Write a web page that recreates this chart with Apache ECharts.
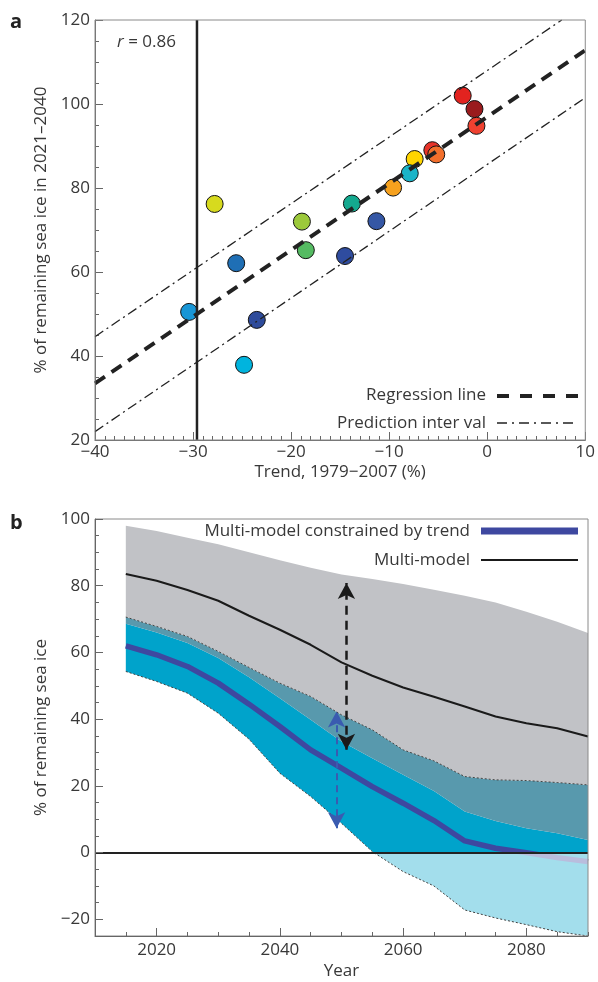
<!DOCTYPE html>
<html>
<head>
<meta charset="utf-8">
<script src="https://cdn.jsdelivr.net/npm/echarts@6/dist/echarts.min.js"></script>
<style>
  html, body { margin: 0; padding: 0; background: #fff; }
  #chart { width: 598px; height: 982px; }
</style>
</head>
<body>
<div id="chart"></div>
<script>
// panel a: 1979-2007 trend vs % remaining ice in 2021-2040, one dot per model
const trendX = [-27.8, -25.6, -30.4, -23.5, -24.8, -18.5, -14.5, -18.9, -13.8, -11.3, -9.6, -7.4, -7.9, -5.6, -5.2, -2.5, -1.3, -1.1];
const remainingY = [76.2, 62.1, 50.5, 48.6, 37.9, 65.2, 63.8, 72.0, 76.3, 72.1, 80.1, 86.9, 83.5, 89.0, 88.0, 102.0, 98.8, 94.8];
const modelColors = ["#d7da1e", "#1f6fb5", "#1896d6", "#2e4b9b", "#00b4de", "#55bb62", "#2f4c9f", "#9cc93b", "#14a98f",
  "#3557a5", "#f6a11e", "#ffd500", "#1ab4c8", "#e63329", "#f26f2c", "#e2231f", "#9a1b1d", "#ef4130"];
const regressionLine = [[-40, 33.5], [10, 112.8]];
const predictionUpper = [[-40, 44.6], [7.6, 120]];
const predictionLower = [[-40, 22.0], [10, 101.5]];
const observedTrend = -29.6;
const rValue = "0.86";

// panel b: projections
const years = [2015, 2020, 2025, 2030, 2035, 2040, 2045, 2050, 2055, 2060, 2065, 2070, 2075, 2080, 2085, 2090];
const multiModelMax = [98, 96.4, 94.4, 92.4, 90, 87.6, 85.4, 83.4, 82, 80.5, 78.8, 77, 75, 72.2, 69.2, 65.8];
const multiModelMean = [83.5, 81.5, 78.7, 75.5, 71, 66.8, 62.3, 57, 53, 49.5, 46.7, 43.8, 40.8, 38.8, 37.3, 34.8];
const constrainedMax = [70.6, 67.8, 64.8, 60.3, 55.5, 50.8, 46.8, 41.3, 36.8, 30.8, 27.5, 22.8, 21.8, 21.6, 21.0, 20.3];
const constrainedInner = [68.6, 66.0, 62.8, 58.3, 52.6, 46.3, 39.8, 33.3, 28.3, 23.3, 18.5, 12.3, 9.5, 7.3, 5.8, 3.8];
const constrainedMean = [62.0, 59.3, 55.8, 50.8, 44.5, 37.8, 30.8, 25.3, 19.8, 14.8, 9.6, 3.5, 1.3, 0.0, -1.5, -2.7];
const constrainedMin = [54.3, 51.3, 47.8, 41.8, 34, 23.8, 16.8, 8.8, 0.3, -5.7, -10, -17.2, -19.6, -21.6, -23.7, -25];
const multiModelArrow = [[2050.8, 30.8], [2050.8, 80.8]];
const constrainedArrow = [[2049.2, 7.3], [2049.2, 42.3]];

const yearLabels = [2020, 2040, 2060, 2080];
const iceLabels = [-20, 0, 20, 40, 60, 80, 100];

const FONT = "'Open Sans', 'Noto Sans', sans-serif";
const TXT = "#383838";
const AX = "#666";
const minus = (v) => (v < 0 ? "\u2212" + Math.abs(v) : String(v));
const pair = (xs, ys) => xs.map((x, i) => [x, ys[i]]);
const diff = (a, b) => a.map((v, i) => +(v - b[i]).toFixed(2));

const chart = echarts.init(document.getElementById("chart"), null, { renderer: "canvas" });

const lbl = { color: TXT, fontSize: 17, fontFamily: FONT };
const nameStyle = { color: TXT, fontSize: 17, fontFamily: FONT };

// stacked envelope bands; value is put first so the stack runs along y
const band = (vals, color) => ({
  type: "line", xAxisIndex: 1, yAxisIndex: 1, stack: "env", stackStrategy: "all",
  data: years.map((yr, i) => [vals[i], yr]), encode: { x: 1, y: 0 },
  symbol: "none", z: 1, silent: true, lineStyle: { width: 0, opacity: 0 },
  areaStyle: color ? { color, opacity: 1 } : undefined,
});

chart.setOption({
  animation: false,
  grid: [
    { left: 95, right: 10, top: 20, height: 420, show: true, borderColor: "#8a8a8a", borderWidth: 1, z: 10 },
    { left: 95, right: 10, top: 519, height: 417, show: true, borderColor: "#8a8a8a", borderWidth: 1, z: 10 },
  ],
  xAxis: [
    {
      gridIndex: 0, type: "value", min: -40, max: 10, interval: 10,
      axisLine: { onZero: false, lineStyle: { color: AX } },
      axisTick: { inside: true, length: 8, lineStyle: { color: AX } },
      minorTick: { show: true, splitNumber: 10, length: 4, lineStyle: { color: AX } },
      splitLine: { show: false },
      axisLabel: { ...lbl, margin: 4, formatter: minus },
      name: "Trend, 1979\u22122007 (%)", nameLocation: "middle", nameGap: 24, nameTextStyle: nameStyle,
    },
    {
      gridIndex: 1, type: "value", min: 2010, max: 2090, position: "bottom", z: 10,
      axisLine: { onZero: false, lineStyle: { color: AX } },
      axisTick: { inside: true, length: 8, lineStyle: { color: AX }, customValues: yearLabels },
      splitLine: { show: false },
      axisLabel: { ...lbl, margin: 6, customValues: yearLabels, formatter: (v) => String(v) },
      name: "Year", nameLocation: "middle", nameGap: 27, nameTextStyle: nameStyle,
    },
    {
      gridIndex: 1, type: "value", min: 2010, max: 2090, interval: 5, position: "bottom", z: 10,
      axisLine: { show: false, onZero: false },
      axisTick: { inside: true, length: 4, lineStyle: { color: AX } },
      axisLabel: { show: false }, splitLine: { show: false },
    },
  ],
  yAxis: [
    {
      gridIndex: 0, type: "value", min: 20, max: 120, interval: 20,
      axisLine: { show: true, onZero: false, lineStyle: { color: AX } },
      axisTick: { show: true, inside: true, length: 8, lineStyle: { color: AX } },
      minorTick: { show: true, splitNumber: 4, length: 4, lineStyle: { color: AX } },
      splitLine: { show: false },
      axisLabel: { ...lbl, margin: 5 },
      name: "% of remaining sea ice in 2021\u20132040", nameLocation: "middle", nameGap: 43, nameRotate: 90,
      nameTextStyle: nameStyle,
    },
    {
      gridIndex: 1, type: "value", min: -25, max: 100, position: "left", z: 10,
      axisLine: { show: true, onZero: false, lineStyle: { color: AX } },
      axisTick: { show: true, inside: true, length: 8, lineStyle: { color: AX }, customValues: iceLabels },
      splitLine: { show: false },
      axisLabel: { ...lbl, margin: 5, customValues: iceLabels, formatter: minus },
      name: "% of remaining sea ice", nameLocation: "middle", nameGap: 43, nameRotate: 90,
      nameTextStyle: nameStyle,
    },
    {
      gridIndex: 1, type: "value", min: -25, max: 100, interval: 5, position: "left", z: 10,
      axisLine: { show: false, onZero: false },
      axisTick: { show: true, inside: true, length: 4, lineStyle: { color: AX } },
      axisLabel: { show: false }, splitLine: { show: false },
    },
  ],
  series: [
    // ---- panel a
    {
      type: "scatter", xAxisIndex: 0, yAxisIndex: 0, symbolSize: 17, z: 2,
      data: trendX.map((x, i) => ({ value: [x, remainingY[i]], itemStyle: { color: modelColors[i] } })),
      itemStyle: { borderColor: "#111", borderWidth: 1, opacity: 1 },
    },
    {
      type: "line", xAxisIndex: 0, yAxisIndex: 0, data: regressionLine, symbol: "none", z: 3,
      lineStyle: { color: "#222", width: 4, type: [12, 8] },
    },
    {
      type: "line", xAxisIndex: 0, yAxisIndex: 0, data: predictionUpper, symbol: "none", z: 3,
      lineStyle: { color: "#222", width: 1.3, type: [10, 4, 2, 4] },
    },
    {
      type: "line", xAxisIndex: 0, yAxisIndex: 0, data: predictionLower, symbol: "none", z: 3,
      lineStyle: { color: "#222", width: 1.3, type: [10, 4, 2, 4] },
    },
    {
      type: "line", xAxisIndex: 0, yAxisIndex: 0, data: [[observedTrend, 20], [observedTrend, 120]],
      symbol: "none", z: 3, lineStyle: { color: "#222", width: 2.5 },
    },
    // ---- panel b: envelopes
    band(constrainedMin, null),
    band(diff(constrainedInner, constrainedMin), "#00a3cb"),
    band(diff(constrainedMax, constrainedInner), "#5899ad"),
    band(diff(multiModelMax, constrainedMax), "#c1c2c6"),
    {
      type: "line", xAxisIndex: 1, yAxisIndex: 1, data: pair(years, constrainedMean), symbol: "none", z: 2,
      lineStyle: { color: "#3e48a0", width: 5.5 },
    },
    {
      type: "line", xAxisIndex: 1, yAxisIndex: 1, data: [], symbol: "none", z: 3,
      markArea: {
        silent: true, z: 3, itemStyle: { color: "rgba(255,255,255,0.64)" },
        data: [[{ yAxis: -25 }, { yAxis: 0 }]],
      },
    },
    {
      type: "line", xAxisIndex: 1, yAxisIndex: 1, data: pair(years, constrainedMax), symbol: "none", z: 4,
      lineStyle: { color: "#444", width: 1, type: [2, 2] },
    },
    {
      type: "line", xAxisIndex: 1, yAxisIndex: 1, data: pair(years, constrainedMin), symbol: "none", z: 4,
      lineStyle: { color: "#444", width: 1, type: [2, 2] },
    },
    {
      type: "line", xAxisIndex: 1, yAxisIndex: 1, data: pair(years, multiModelMean), symbol: "none", z: 4,
      lineStyle: { color: "#1a1a1a", width: 2 },
    },
    {
      type: "line", xAxisIndex: 1, yAxisIndex: 1, data: [], symbol: "none", z: 5,
      markLine: {
        silent: true, symbol: "none", z: 5, label: { show: false },
        lineStyle: { color: "#222", width: 2.2, type: "solid" },
        data: [{ yAxis: 0 }],
      },
    },
    {
      type: "line", xAxisIndex: 1, yAxisIndex: 1, data: [], symbol: "none", z: 6,
      markLine: {
        silent: true, symbol: ["arrow", "arrow"], symbolSize: [13, 16], z: 6, label: { show: false },
        data: [
          [
            { coord: multiModelArrow[0], lineStyle: { color: "#1a1a1a", width: 2.5, type: [9, 6] }, itemStyle: { color: "#1a1a1a" } },
            { coord: multiModelArrow[1] },
          ],
          [
            { coord: constrainedArrow[0], lineStyle: { color: "#3a5bb0", width: 2, type: [7, 5] }, itemStyle: { color: "#3a5bb0" } },
            { coord: constrainedArrow[1] },
          ],
        ],
      },
    },
  ],
  graphic: [
    { type: "text", left: 10, top: 12, style: { text: "a", font: "bold 20px " + FONT, fill: "#222" } },
    { type: "text", left: 10, top: 513, style: { text: "b", font: "bold 20px " + FONT, fill: "#222" } },
    {
      type: "text", x: 117, y: 42,
      style: {
        text: "{i|r} = " + rValue, verticalAlign: "middle", font: "17px " + FONT, fill: TXT,
        rich: { i: { fontStyle: "italic", fontSize: 17, fontFamily: FONT, fill: TXT } },
      },
    },
    { type: "text", x: 486, y: 395, style: { text: "Regression line", align: "right", verticalAlign: "middle", font: "17px " + FONT, fill: TXT } },
    { type: "line", shape: { x1: 497, y1: 396, x2: 578, y2: 396 }, style: { stroke: "#222", lineWidth: 4, lineDash: [12, 11] } },
    { type: "text", x: 486, y: 423, style: { text: "Prediction inter val", align: "right", verticalAlign: "middle", font: "17px " + FONT, fill: TXT } },
    { type: "line", shape: { x1: 497, y1: 423, x2: 575, y2: 423 }, style: { stroke: "#222", lineWidth: 1.3, lineDash: [10, 5, 2, 5] } },
    { type: "text", x: 470, y: 531, style: { text: "Multi-model constrained by trend", align: "right", verticalAlign: "middle", font: "17px " + FONT, fill: TXT } },
    { type: "line", shape: { x1: 481, y1: 531, x2: 578, y2: 531 }, style: { stroke: "#3e48a0", lineWidth: 7 } },
    { type: "text", x: 470, y: 560, style: { text: "Multi-model", align: "right", verticalAlign: "middle", font: "17px " + FONT, fill: TXT } },
    { type: "line", shape: { x1: 481, y1: 560, x2: 578, y2: 560 }, style: { stroke: "#1a1a1a", lineWidth: 2 } },
  ],
});
</script>
</body>
</html>
